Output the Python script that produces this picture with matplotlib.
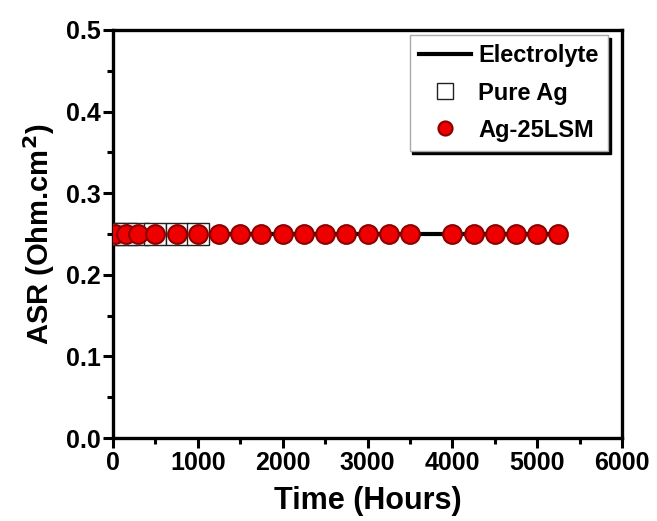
import numpy as np
import matplotlib.pyplot as plt
from matplotlib.ticker import MultipleLocator

# Datos
electrolyte_t = [0, 5250]
electrolyte_asr = [0.25, 0.25]

pure_ag_t = [24, 150, 300, 500, 750, 1000]
pure_ag_asr = [0.25, 0.25, 0.25, 0.25, 0.25, 0.25]

lsm_t = [24, 150, 300, 500, 750, 1000, 1250, 1500, 1750, 2000, 2250, 2500,
         2750, 3000, 3250, 3500, 4000, 4250, 4500, 4750, 5000, 5250]
lsm_asr = [0.25] * len(lsm_t)

plt.rcParams['font.family'] = ['Liberation Sans', 'DejaVu Sans']
plt.rcParams['font.weight'] = 'bold'

fig = plt.figure(figsize=(6.57, 5.21), dpi=100)
ax = fig.add_axes([113 / 657, 83 / 521, 509 / 657, 408 / 521])

ax.plot(electrolyte_t, electrolyte_asr, color='black', lw=3, label='Electrolyte', zorder=2)
ax.plot(pure_ag_t, pure_ag_asr, ls='none', marker='s', ms=15.5, mfc='white',
        mec='#222222', mew=1.0, label='Pure Ag', zorder=3)
ax.plot(lsm_t, lsm_asr, ls='none', marker='o', ms=13.5, mfc='#ee0000',
        mec='#8b0000', mew=1.5, label='Ag-25LSM', zorder=4)

ax.set_xlim(0, 6000)
ax.set_ylim(0.0, 0.5)
ax.xaxis.set_major_locator(MultipleLocator(1000))
ax.xaxis.set_minor_locator(MultipleLocator(500))
ax.yaxis.set_major_locator(MultipleLocator(0.1))
ax.yaxis.set_minor_locator(MultipleLocator(0.05))
ax.yaxis.set_major_formatter(plt.FormatStrFormatter('%.1f'))

ax.tick_params(which='major', direction='out', length=7, width=2.2, labelsize=18, pad=2)
ax.tick_params(which='minor', direction='out', length=4, width=2.2)
for s in ax.spines.values():
    s.set_linewidth(2.4)

ax.set_xlabel('Time (Hours)', fontsize=22, fontweight='bold', labelpad=8)
ax.set_ylabel('ASR (Ohm.cm$^\\mathbf{2}$)', fontsize=21, fontweight='bold', labelpad=6)

leg = ax.legend(loc='upper right', bbox_to_anchor=(0.9725, 0.988), fontsize=17,
                frameon=True, fancybox=False, shadow={'color': 'black', 'alpha': 1},
                handlelength=2.2, handletextpad=0.3, borderpad=0.4, labelspacing=0.6,
                markerscale=0.75, borderaxespad=0)
leg.get_frame().set_edgecolor('#aaaaaa')
leg.get_frame().set_linewidth(1.0)

fig.savefig('out.png', dpi=100)
